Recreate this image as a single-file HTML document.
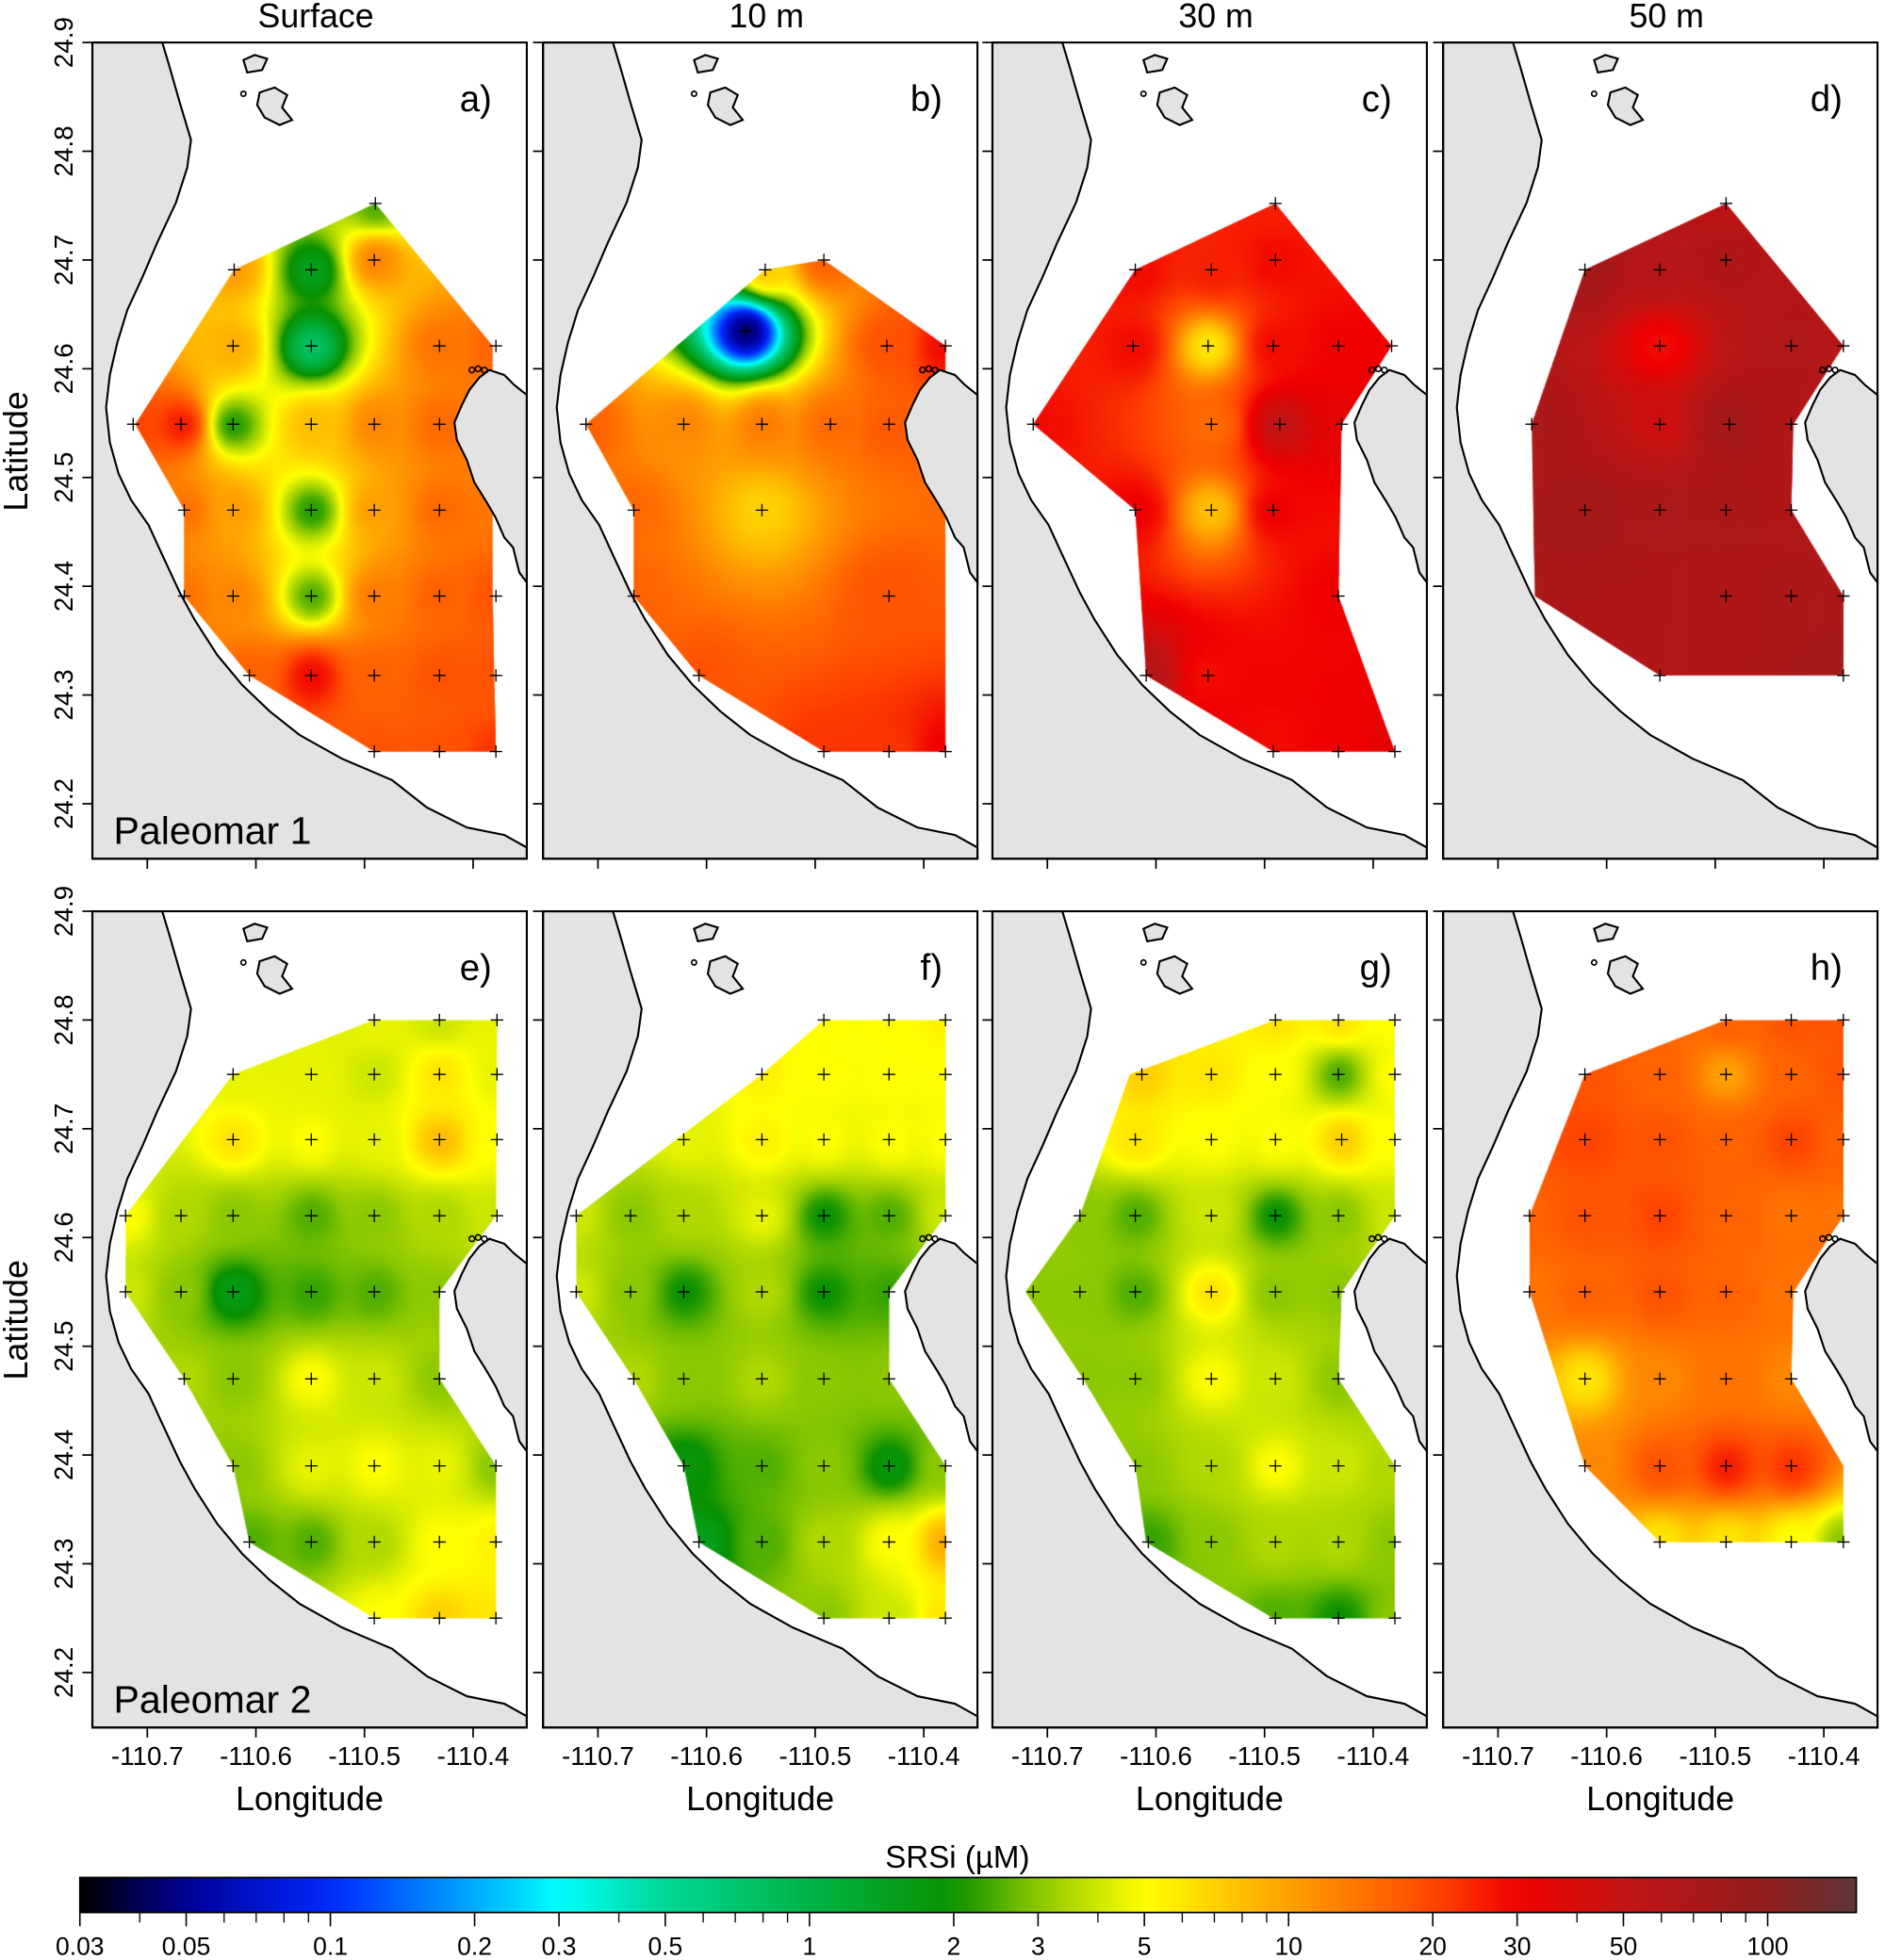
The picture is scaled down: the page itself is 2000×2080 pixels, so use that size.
<!DOCTYPE html>
<html><head><meta charset="utf-8">
<style>
html,body{margin:0;padding:0;background:#fff;}
#wrap{position:relative;width:2000px;height:2080px;overflow:hidden;}
#heat{position:absolute;left:0;top:0;}
#ov{position:absolute;left:0;top:0;}
text{font-family:"Liberation Sans",Arial,sans-serif;fill:#000;}
</style></head>
<body>
<div id="wrap">
<canvas id="heat" width="2000" height="2080"></canvas>
<svg id="ov" width="2000" height="2080" viewBox="0 0 1510 1568" preserveAspectRatio="none"></svg>
</div>
<script>
// ---- data: station longitudes, latitudes, SRSi values per panel ----
const aLon=[-110.490,-110.620,-110.549,-110.491,-110.621,-110.549,-110.431,-110.379,-110.713,-110.669,-110.621,-110.549,-110.491,-110.431,-110.666,-110.621,-110.549,-110.491,-110.431,-110.666,-110.621,-110.549,-110.491,-110.431,-110.379,-110.606,-110.549,-110.491,-110.431,-110.379,-110.491,-110.431,-110.379];
const aLat=[24.752,24.691,24.691,24.70,24.621,24.621,24.621,24.621,24.549,24.549,24.549,24.549,24.549,24.549,24.470,24.470,24.470,24.470,24.470,24.391,24.391,24.391,24.391,24.391,24.391,24.318,24.318,24.318,24.318,24.318,24.248,24.248,24.248];
const aVal=[2.5,10,1.5,12,9,0.8,14,16,20,25,2.2,8,12,15,14,10,2.2,10,15,14,12,2.5,13,16,18,16,28,16,18,18,18,18,22];

const bLon=[-110.546,-110.492,-110.564,-110.434,-110.380,-110.711,-110.621,-110.549,-110.486,-110.432,-110.549,-110.667,-110.667,-110.432,-110.607,-110.492,-110.432,-110.380];
const bLat=[24.691,24.70,24.635,24.621,24.621,24.549,24.549,24.549,24.549,24.549,24.470,24.470,24.391,24.391,24.318,24.248,24.248,24.248];
const bVal=[7,16,0.045,18,28,16,12,13,15,17,7,15,16,18,18,22,22,30];

const cLon=[-110.490,-110.619,-110.549,-110.490,-110.621,-110.552,-110.492,-110.432,-110.383,-110.713,-110.549,-110.486,-110.429,-110.619,-110.549,-110.492,-110.432,-110.609,-110.552,-110.492,-110.432,-110.380];
const cLat=[24.752,24.691,24.691,24.70,24.621,24.621,24.621,24.621,24.621,24.549,24.549,24.549,24.549,24.470,24.470,24.470,24.391,24.318,24.318,24.248,24.248,24.248];
const cVal=[25,28,25,28,28,6,28,30,30,28,15,50,35,30,8,30,30,60,28,28,30,35];

const dLon=[-110.490,-110.620,-110.551,-110.490,-110.551,-110.430,-110.382,-110.669,-110.551,-110.487,-110.430,-110.620,-110.551,-110.490,-110.430,-110.490,-110.430,-110.382,-110.551,-110.382];
const dLat=[24.752,24.691,24.691,24.70,24.621,24.621,24.621,24.549,24.549,24.549,24.549,24.470,24.470,24.470,24.470,24.391,24.391,24.391,24.318,24.318];
const dVal=[55,75,60,65,28,65,60,70,45,75,65,75,70,70,65,65,70,70,65,75];

const eLon=[-110.491,-110.431,-110.378,-110.621,-110.549,-110.491,-110.431,-110.378,-110.621,-110.549,-110.491,-110.431,-110.378,-110.720,-110.669,-110.621,-110.549,-110.491,-110.431,-110.378,-110.720,-110.669,-110.621,-110.549,-110.491,-110.431,-110.666,-110.621,-110.549,-110.491,-110.431,-110.621,-110.549,-110.491,-110.431,-110.379,-110.606,-110.549,-110.491,-110.431,-110.379,-110.491,-110.431,-110.379];
const eLat=[24.80,24.80,24.80,24.75,24.75,24.75,24.75,24.75,24.69,24.69,24.69,24.69,24.69,24.62,24.62,24.62,24.62,24.62,24.62,24.62,24.55,24.55,24.55,24.55,24.55,24.55,24.47,24.47,24.47,24.47,24.47,24.39,24.39,24.39,24.39,24.39,24.32,24.32,24.32,24.32,24.32,24.25,24.25,24.25];
const eVal=[4.5,4,4.5,4.5,4.5,4,6,4.5,6,5,4.5,8,5,5,3.5,3,2.5,3,3.5,4,4,3,1.6,2.3,2.5,3,3.5,3,5,4,3,3,4.5,5,4.5,3,2.5,2.5,3.5,5,5.5,5,7,6];

const fLon=[-110.492,-110.432,-110.380,-110.549,-110.492,-110.432,-110.380,-110.621,-110.549,-110.492,-110.432,-110.380,-110.720,-110.670,-110.621,-110.549,-110.492,-110.432,-110.380,-110.720,-110.670,-110.621,-110.549,-110.492,-110.432,-110.667,-110.621,-110.549,-110.492,-110.432,-110.621,-110.549,-110.492,-110.432,-110.380,-110.607,-110.549,-110.492,-110.432,-110.380,-110.492,-110.432,-110.380];
const fLat=[24.80,24.80,24.80,24.75,24.75,24.75,24.75,24.69,24.69,24.69,24.69,24.69,24.62,24.62,24.62,24.62,24.62,24.62,24.62,24.55,24.55,24.55,24.55,24.55,24.55,24.47,24.47,24.47,24.47,24.47,24.39,24.39,24.39,24.39,24.39,24.32,24.32,24.32,24.32,24.32,24.25,24.25,24.25];
const fVal=[5,5,5.5,5.5,5,5,5,4.5,5.5,5,5,5,4,3,3.5,4.5,2,2.5,4,4,3,2,3.5,2,2.3,3.5,3,3.5,3,3,1.8,2.5,3,1.8,3,1.5,2.5,3.5,5,9,3,4,6];

const gLon=[-110.490,-110.432,-110.380,-110.613,-110.549,-110.490,-110.432,-110.380,-110.619,-110.549,-110.490,-110.429,-110.380,-110.670,-110.619,-110.549,-110.490,-110.432,-110.380,-110.713,-110.670,-110.619,-110.549,-110.490,-110.432,-110.667,-110.619,-110.549,-110.490,-110.432,-110.619,-110.549,-110.490,-110.432,-110.380,-110.607,-110.549,-110.490,-110.432,-110.380,-110.490,-110.432,-110.380];
const gLat=[24.80,24.80,24.80,24.75,24.75,24.75,24.75,24.75,24.69,24.69,24.69,24.69,24.69,24.62,24.62,24.62,24.62,24.62,24.62,24.55,24.55,24.55,24.55,24.55,24.55,24.47,24.47,24.47,24.47,24.47,24.39,24.39,24.39,24.39,24.39,24.32,24.32,24.32,24.32,24.32,24.25,24.25,24.25];
const gVal=[6,6,5,7,6,5,2.5,5,6,5,5,7,5,3,2.5,4,2,3,4,3,3,2.5,6,3,3,3,3,5,4,3,3,3.5,5,4,3.5,2.3,3,3.5,3.5,3,2.5,2,3];

const hLon=[-110.490,-110.430,-110.382,-110.620,-110.551,-110.490,-110.430,-110.382,-110.620,-110.551,-110.490,-110.430,-110.382,-110.671,-110.620,-110.551,-110.490,-110.430,-110.382,-110.671,-110.620,-110.551,-110.490,-110.430,-110.620,-110.551,-110.490,-110.430,-110.620,-110.551,-110.490,-110.430,-110.551,-110.490,-110.430,-110.382];
const hLat=[24.80,24.80,24.80,24.75,24.75,24.75,24.75,24.75,24.69,24.69,24.69,24.69,24.69,24.62,24.62,24.62,24.62,24.62,24.62,24.55,24.55,24.55,24.55,24.55,24.47,24.47,24.47,24.47,24.39,24.39,24.39,24.39,24.32,24.32,24.32,24.32];
const hVal=[16,18,18,18,16,10,16,18,20,18,16,20,16,16,18,20,16,14,14,14,16,18,16,14,6,12,14,12,12,18,25,22,6,6,5,3];

// survey outlines (lon/lat)
const aPoly=[[-110.490,24.752],[-110.382,24.621],[-110.382,24.391],[-110.379,24.248],[-110.491,24.248],[-110.606,24.318],[-110.666,24.391],[-110.666,24.470],[-110.711,24.549],[-110.620,24.691]];
const bPoly=[[-110.711,24.549],[-110.546,24.691],[-110.492,24.70],[-110.380,24.621],[-110.380,24.248],[-110.492,24.248],[-110.607,24.318],[-110.667,24.391],[-110.667,24.470]];
const cPoly=[[-110.490,24.752],[-110.383,24.621],[-110.429,24.549],[-110.432,24.391],[-110.380,24.248],[-110.492,24.248],[-110.609,24.318],[-110.619,24.470],[-110.713,24.549],[-110.619,24.691]];
const dPoly=[[-110.490,24.752],[-110.382,24.621],[-110.428,24.549],[-110.430,24.470],[-110.382,24.391],[-110.382,24.318],[-110.551,24.318],[-110.666,24.391],[-110.669,24.549],[-110.620,24.691]];
const ePoly=[[-110.491,24.80],[-110.378,24.80],[-110.379,24.62],[-110.431,24.55],[-110.431,24.47],[-110.379,24.39],[-110.379,24.25],[-110.491,24.25],[-110.606,24.32],[-110.621,24.39],[-110.666,24.47],[-110.720,24.55],[-110.720,24.62],[-110.621,24.75]];
const fPoly=[[-110.492,24.80],[-110.380,24.80],[-110.380,24.62],[-110.432,24.55],[-110.432,24.47],[-110.380,24.39],[-110.380,24.25],[-110.492,24.25],[-110.607,24.32],[-110.621,24.39],[-110.667,24.47],[-110.720,24.55],[-110.720,24.62],[-110.549,24.75]];
const gPoly=[[-110.490,24.80],[-110.380,24.80],[-110.380,24.62],[-110.429,24.55],[-110.432,24.47],[-110.380,24.39],[-110.380,24.25],[-110.492,24.25],[-110.609,24.32],[-110.619,24.39],[-110.667,24.47],[-110.720,24.55],[-110.670,24.62],[-110.624,24.75]];
const hPoly=[[-110.490,24.80],[-110.382,24.80],[-110.382,24.62],[-110.428,24.55],[-110.430,24.47],[-110.382,24.39],[-110.382,24.32],[-110.551,24.32],[-110.620,24.39],[-110.671,24.55],[-110.671,24.62],[-110.620,24.75]];

const panelTitles=["Surface","10 m","30 m","50 m"];
const panelLetters=["a)","b)","c)","d)","e)","f)","g)","h)"];
const latTicks=[24.2,24.3,24.4,24.5,24.6,24.7,24.8,24.9];
const lonTicks=[-110.7,-110.6,-110.5,-110.4];
const cbLabels=[0.03,0.05,0.1,0.2,0.3,0.5,1,2,3,5,10,20,30,50,100];
const cbMinor=[0.04,0.06,0.07,0.08,0.09,0.4,0.6,0.7,0.8,0.9,4,6,7,8,9,40,60,70,80,90];

// ---- layout ----
const NS="http://www.w3.org/2000/svg";
const svg=document.getElementById('ov');
const lefts=[74,435,795,1156], tops=[34,729], PW=348, PH=653;
const panels=[[aLon,aLat,aVal,aPoly],[bLon,bLat,bVal,bPoly],[cLon,cLat,cVal,cPoly],[dLon,dLat,dVal,dPoly],[eLon,eLat,eVal,ePoly],[fLon,fLat,fVal,fPoly],[gLon,gLat,gVal,gPoly],[hLon,hLat,hVal,hPoly]];
function xOf(p,lon){return lefts[p%4]+44+(lon+110.7)*870;}
function yOf(p,lat){return tops[Math.floor(p/4)]+(24.9-lat)*870;}
function el(tag,attrs,parent){const e=document.createElementNS(NS,tag);for(const k in attrs)e.setAttribute(k,attrs[k]);(parent||svg).appendChild(e);return e;}

// colormap
const cmap=[[0.03,[0,0,0]],[0.05,[0,0,150]],[0.1,[0,40,255]],[0.2,[0,170,255]],[0.3,[0,255,255]],[0.5,[0,215,150]],[1,[0,180,70]],[2,[10,145,0]],[3,[140,200,0]],[5,[255,255,0]],[10,[255,160,0]],[20,[255,70,0]],[30,[240,0,0]],[50,[195,20,20]],[100,[145,30,30]],[155,[95,55,55]]];
function colorOf(v){const lv=Math.log10(v);
 if(v<=cmap[0][0])return cmap[0][1];
 for(let i=0;i<cmap.length-1;i++){const a=Math.log10(cmap[i][0]),b=Math.log10(cmap[i+1][0]);
  if(lv<=b){const t=(lv-a)/(b-a);return cmap[i][1].map((c,k)=>Math.round(c+(cmap[i+1][1][k]-c)*t));}}
 return cmap[cmap.length-1][1];}
const cbX0=64,cbX1=1487; const cbPer=(1416-64)/Math.log10(100/0.03);
function cbx(v){return cbX0+Math.log10(v/0.03)*cbPer;}

// ---- heatmaps ----
const cv=document.getElementById('heat'),ctx=cv.getContext('2d');
ctx.scale(2000/1510,2080/1568);
panels.forEach((pn,p)=>{
 const [lo,la,va,poly]=pn;
 const xs=lo.map(v=>xOf(p,v)), ys=la.map(v=>yOf(p,v)), lv=va.map(v=>Math.log10(v));
 ctx.save();ctx.beginPath();
 poly.forEach((q,i)=>{const X=xOf(p,q[0]),Y=yOf(p,q[1]);i?ctx.lineTo(X,Y):ctx.moveTo(X,Y);});
 ctx.closePath();ctx.clip();
 const px=poly.map(q=>xOf(p,q[0])),py=poly.map(q=>yOf(p,q[1]));
 const x0=Math.min(...px),x1=Math.max(...px),y0=Math.min(...py),y1=Math.max(...py);
 const st=1.5;
 for(let y=y0;y<=y1;y+=st)for(let x=x0;x<=x1;x+=st){
  let sw=0,s=0,hit=-1;
  for(let i=0;i<xs.length;i++){const d2=(x-xs[i])**2+(y-ys[i])**2;if(d2<0.5){hit=i;break;}const w=1/Math.pow(d2,1.3);sw+=w;s+=w*lv[i];}
  const val=hit>=0?va[hit]:Math.pow(10,s/sw);
  const c=colorOf(val);ctx.fillStyle=`rgb(${c[0]},${c[1]},${c[2]})`;ctx.fillRect(x,y,st+0.6,st+0.6);
 }
 ctx.restore();
});

// ---- coast shapes (panel-relative decoration) ----
const landMain="M56,0 L62,20 L70,48 L79,78 L76,100 L67,128 L52,160 L40,188 L28,214 L20,240 L14,266 L11,292 L14,320 L21,345 L31,366 L45,386 L56,410 L70,440 L82,462 L100,490 L120,514 L142,535 L166,554 L200,573 L240,590 L268,612 L300,628 L330,634 L348,644 L348,653 L0,653 L0,0 Z";
const island="M310,268 L318,262 L330,266 L338,274 L348,282 L348,432 L342,424 L337,404 L330,396 L323,380 L316,368 L306,352 L300,334 L292,318 L290,304 L296,290 L302,278 Z";
const islets=["M121,14 L130,10 L140,13 L136,22 L124,24 Z","M134,40 L146,36 L156,42 L152,52 L160,62 L150,66 L138,60 L132,50 Z"];

for(let p=0;p<8;p++){
 const L=lefts[p%4],T=tops[Math.floor(p/4)];
 const g=el('g',{transform:`translate(${L},${T})`});
 
 
 el('path',{d:landMain,fill:'#e3e3e3',stroke:'#000','stroke-width':1.6},g);
 el('path',{d:island,fill:'#e3e3e3',stroke:'#000','stroke-width':1.6},g);
 islets.forEach(d=>el('path',{d:d,fill:'#e3e3e3',stroke:'#000','stroke-width':1.6},g));
 el('circle',{cx:121,cy:41,r:2,fill:'none',stroke:'#000','stroke-width':1.3},g);
 [[304,262],[309,261],[314,262]].forEach(c=>el('circle',{cx:c[0],cy:c[1],r:2.2,fill:'none',stroke:'#000','stroke-width':1.2},g));
 const [lo,la]=panels[p];
 for(let i=0;i<lo.length;i++){
  const X=xOf(p,lo[i]),Y=yOf(p,la[i]);
  const m=el('path',{d:`M${X-5},${Y} H${X+5} M${X},${Y-5} V${Y+5}`,stroke:'#000','stroke-width':1});
  
  
 }
 const fr=el('rect',{x:L,y:T,width:PW,height:PH,fill:'none',stroke:'#000','stroke-width':1.6});
 
 
 const lt=el('text',{x:L+320,y:T+55,'font-size':29,'text-anchor':'end'});lt.textContent=panelLetters[p];
 
 
 latTicks.forEach(v=>{const Y=yOf(p,v);el('line',{x1:L-8,x2:L,y1:Y,y2:Y,stroke:'#000','stroke-width':1.3});
  if(p%4===0){const t=el('text',{x:0,y:0,'font-size':21,'text-anchor':'middle',transform:`translate(${L-16},${Y}) rotate(-90)`});t.textContent=v.toFixed(1);
   
   }});
 lonTicks.forEach(v=>{const X=xOf(p,v);el('line',{x1:X,x2:X,y1:T+PH,y2:T+PH+8,stroke:'#000','stroke-width':1.3});
  if(p>=4){const t=el('text',{x:X,y:T+PH+30,'font-size':21,'text-anchor':'middle'});t.textContent=v.toFixed(1);
   
   }});
}
panelTitles.forEach((s,i)=>{const t=el('text',{x:lefts[i]+PW/2+5,y:22,'font-size':27,'text-anchor':'middle'});t.textContent=s;
 
 });
["Paleomar 1","Paleomar 2"].forEach((s,i)=>{const t=el('text',{x:91,y:tops[i]+641,'font-size':31});t.textContent=s;
 
 });
[0,1].forEach(i=>{const t=el('text',{x:0,y:0,'font-size':27,'text-anchor':'middle',transform:`translate(22,${tops[i]+327}) rotate(-90)`});t.textContent="Latitude";
 
 });
lefts.forEach(L=>{const t=el('text',{x:L+PW/2,y:1448,'font-size':27,'text-anchor':'middle'});t.textContent="Longitude";
 
 });

// ---- colorbar ----
const defs=el('defs',{});const lg=el('linearGradient',{id:'cbg',x1:0,x2:1,y1:0,y2:0},defs);
for(let k=0;k<=60;k++){const v=0.03*Math.pow(155/0.03,k/60);const c=colorOf(v);
 el('stop',{offset:((cbx(v)-cbX0)/(cbX1-cbX0)).toFixed(4),'stop-color':`rgb(${c})`},lg);}
const cb=el('rect',{x:cbX0,y:1502,width:cbX1-cbX0,height:28,fill:'url(#cbg)',stroke:'#000','stroke-width':1.3});


cbLabels.forEach(v=>{const X=cbx(v);el('line',{x1:X,x2:X,y1:1530,y2:1541,stroke:'#000','stroke-width':1.2});
 const t=el('text',{x:X,y:1564,'font-size':20,'text-anchor':'middle'});t.textContent=String(v);
 
 });
cbMinor.forEach(v=>{const X=cbx(v);el('line',{x1:X,x2:X,y1:1530,y2:1538,stroke:'#000','stroke-width':1});});
const ct=el('text',{x:767,y:1494,'font-size':25,'text-anchor':'middle'});ct.textContent="SRSi (\u00b5M)";


</script>
</body></html>
